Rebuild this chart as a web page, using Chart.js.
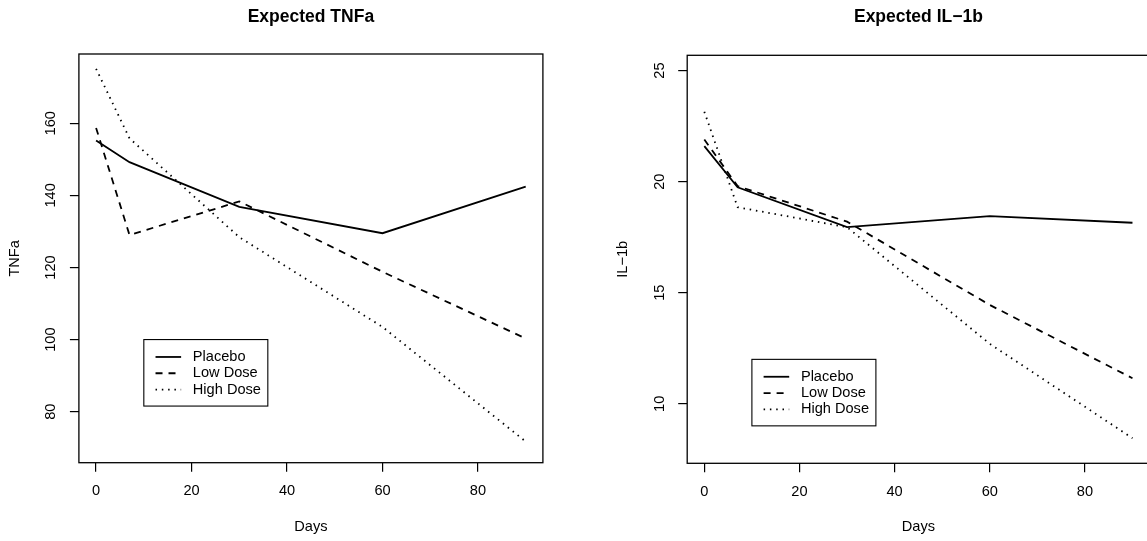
<!DOCTYPE html>
<html>
<head>
<meta charset="utf-8">
<script src="https://cdn.jsdelivr.net/npm/chart.js@4"></script>
<style>
  html, body { margin: 0; padding: 0; background: #fff; overflow: hidden; }
  body { width: 1147px; height: 541px; position: relative; }
  .panel { position: absolute; top: 0; }
</style>
</head>
<body>
<div class="panel" style="left:0px"><canvas id="tnf-chart" width="573" height="541"></canvas></div>
<div class="panel" style="left:573px"><canvas id="il-chart" width="600" height="541"></canvas></div>
<script>
// values
const days = [0, 7, 30, 60, 90];
const groups = ["Placebo", "Low Dose", "High Dose"];

const tnfPlacebo = [155.2, 149.2, 136.8, 129.5, 142.4];
const tnfLow = [158.7, 129.0, 138.3, 118.8, 100.3];
const tnfHigh = [175.1, 155.8, 128.4, 103.5, 71.7];

const ilPlacebo = [21.6, 19.75, 17.95, 18.45, 18.15];
const ilLow = [21.9, 19.8, 18.2, 14.45, 11.15];
const ilHigh = [23.15, 18.85, 17.95, 12.7, 8.45];

const xTicks = [0, 20, 40, 60, 80];
const tnfTicks = [80, 100, 120, 140, 160];
const ilTicks = [10, 15, 20, 25];

const FONT = "'Liberation Sans', Arial, Helvetica, sans-serif";
Chart.defaults.color = "#000";
Chart.defaults.font.family = FONT;

const lineStyles = [[], [7, 6], [1.5, 4.8]];

// box, rotated y labels and legend, R style
const frame = {
    id: "frame",
    afterDraw(chart, args, o) {
        const ctx = chart.ctx;
        const a = chart.chartArea;
        const sx = chart.scales.x;
        const sy = chart.scales.y;
        ctx.save();
        ctx.strokeStyle = "#000";
        ctx.lineWidth = 1.3;
        ctx.strokeRect(a.left, a.top, a.right - a.left, a.bottom - a.top);

        ctx.fillStyle = "#000";
        ctx.font = "14.6px " + FONT;
        ctx.textAlign = "center";
        ctx.textBaseline = "middle";
        o.ticks.forEach(function(v){
            ctx.save();
            ctx.translate(a.left - 27.5, sy.getPixelForValue(v));
            ctx.rotate(-Math.PI / 2);
            ctx.fillText(String(v), 0, 0);
            ctx.restore();
        });

        const lx = sx.getPixelForValue(o.legendAt[0]);
        const ly = sy.getPixelForValue(o.legendAt[1]);
        ctx.lineWidth = 1.1;
        ctx.strokeRect(lx, ly, 124, 66.5);
        chart.data.datasets.forEach(function(ds, i){
            const rowY = ly + 17.4 + i * 16.3;
            ctx.setLineDash(ds.borderDash);
            ctx.lineWidth = ds.borderWidth;
            ctx.beginPath();
            ctx.moveTo(lx + 11.7, rowY);
            ctx.lineTo(lx + 37.3, rowY);
            ctx.stroke();
            ctx.setLineDash([]);
            ctx.textAlign = "left";
            ctx.fillText(ds.label, lx + 49, rowY);
        });
        ctx.restore();
    }
};

function makeSets(series){
    return series.map(function(vals, i){
        return {
            label: groups[i],
            data: vals.map(function(v, j){ return {x: days[j], y: v}; }),
            borderColor: "#000",
            borderWidth: 1.8,
            borderDash: lineStyles[i],
            pointRadius: 0,
            tension: 0,
            fill: false
        };
    });
}

function makeChart(id, cfg){
    return new Chart(document.getElementById(id), {
        type: "line",
        data: { datasets: makeSets(cfg.series) },
        options: {
            responsive: false,
            animation: false,
            events: [],
            layout: { padding: cfg.padding },
            plugins: {
                legend: { display: false },
                tooltip: { enabled: false },
                title: {
                    display: true,
                    fullSize: false,
                    text: cfg.title,
                    color: "#000",
                    font: { size: 17.5, weight: "bold", family: FONT },
                    padding: { top: 6.7, bottom: cfg.titleGap }
                },
                frame: { ticks: cfg.yTicks, legendAt: cfg.legendAt }
            },
            scales: {
                x: {
                    type: "linear",
                    min: -3.6,
                    max: 93.6,
                    afterBuildTicks: function(s){ s.ticks = xTicks.map(function(v){ return {value: v}; }); },
                    afterFit: function(s){ s.height = cfg.xHeight; },
                    border: { display: false },
                    grid: { display: true, drawOnChartArea: false, drawTicks: true, tickLength: 9, color: "#000", lineWidth: 1.2 },
                    ticks: { display: true, autoSkip: false, maxRotation: 0, padding: 10.5, color: "#000", font: { size: 14.6 } },
                    title: { display: true, text: "Days", color: "#000", font: { size: 14.6 }, padding: { top: 0, bottom: 0 } }
                },
                y: {
                    type: "linear",
                    min: cfg.yMin,
                    max: cfg.yMax,
                    afterBuildTicks: function(s){ s.ticks = cfg.yTicks.map(function(v){ return {value: v}; }); },
                    afterFit: function(s){ s.width = cfg.yWidth; },
                    border: { display: false },
                    grid: { display: true, drawOnChartArea: false, drawTicks: true, tickLength: 9, color: "#000", lineWidth: 1.2 },
                    ticks: { display: false },
                    title: { display: true, text: cfg.yLabel, color: "#000", font: { size: 14.6 }, padding: { top: 6.2, bottom: 0 } }
                }
            }
        },
        plugins: [frame]
    });
}

makeChart("tnf-chart", {
    title: "Expected TNFa",
    yLabel: "TNFa",
    series: [tnfPlacebo, tnfLow, tnfHigh],
    yTicks: tnfTicks,
    yMin: 65.85,
    yMax: 179.2,
    legendAt: [10, 100],
    padding: { left: 0, right: 30.1, top: 0, bottom: 5.55 },
    titleGap: 26.3,
    yWidth: 78.9,
    xHeight: 72.75
});

makeChart("il-chart", {
    title: "Expected IL\u22121b",
    yLabel: "IL\u22121b",
    series: [ilPlacebo, ilLow, ilHigh],
    yTicks: ilTicks,
    yMin: 7.32,
    yMax: 25.69,
    legendAt: [10, 12],
    padding: { left: 35, right: 23.4, top: 0, bottom: 5.55 },
    titleGap: 27.6,
    yWidth: 79.2,
    xHeight: 72.15
});
</script>
</body>
</html>
